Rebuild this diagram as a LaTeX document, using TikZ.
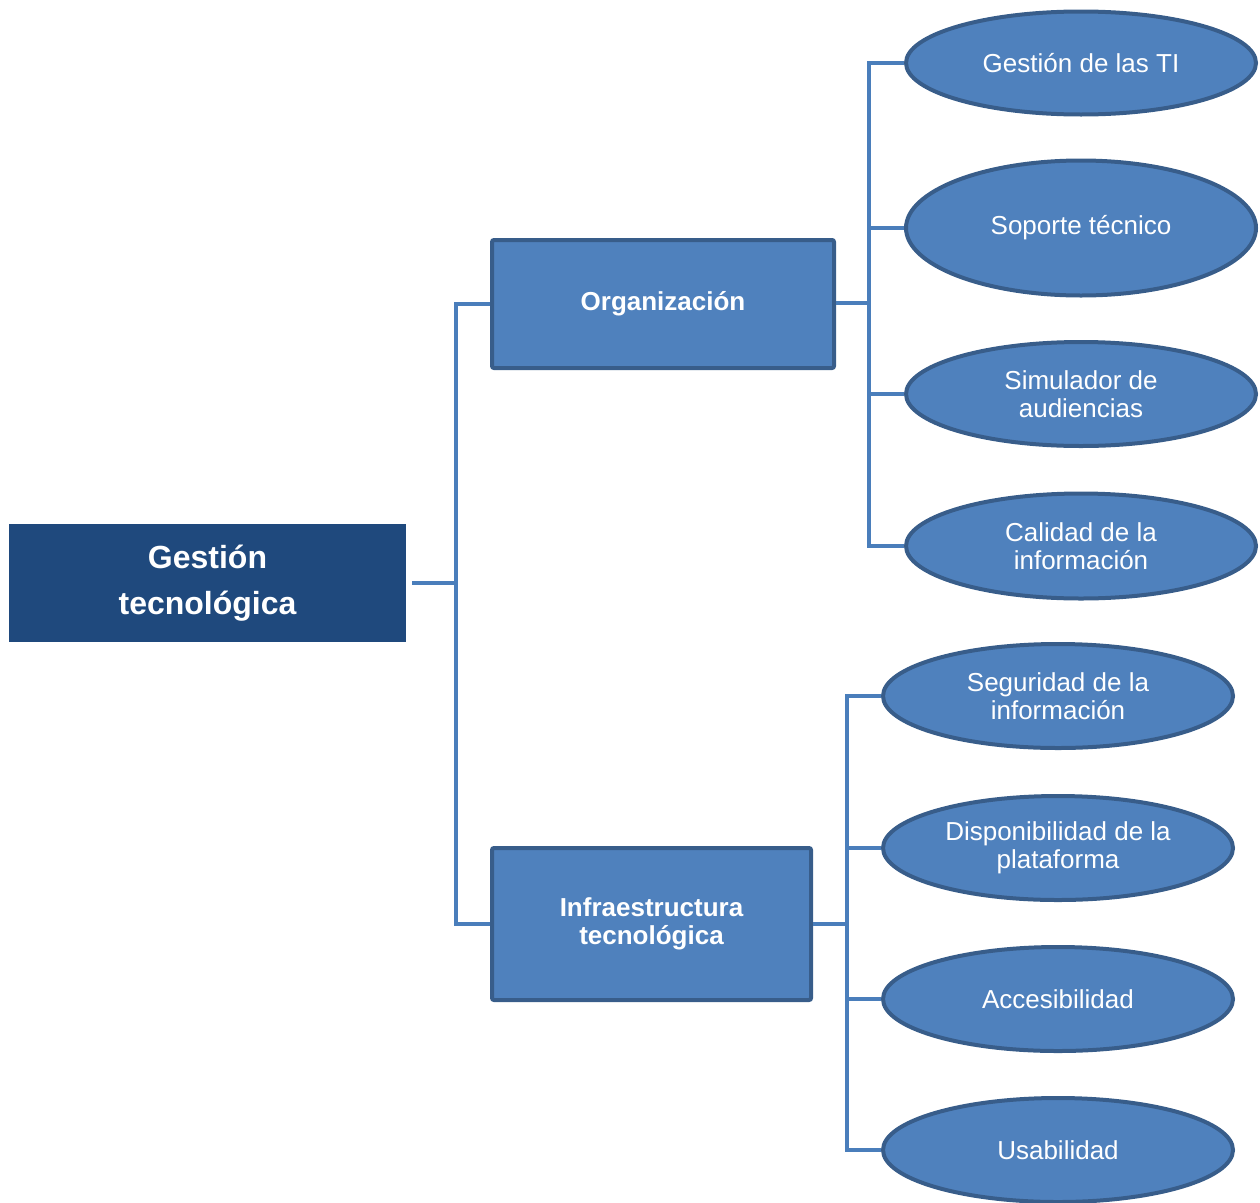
\documentclass[tikz,border=0pt]{standalone}
\usepackage{fontspec}
\setmainfont{Liberation Sans}
\usetikzlibrary{shapes.geometric}
\definecolor{boxfill}{HTML}{4F81BD}
\definecolor{boxline}{HTML}{385D8A}
\definecolor{rootfill}{HTML}{1F497D}
\definecolor{linkcol}{HTML}{4A7EBB}
\begin{document}
\begin{tikzpicture}[x=1pt,y=-1pt,
  rootbox/.style={rectangle, fill=rootfill, text=white, inner sep=0pt,
    minimum width=397pt, minimum height=118pt, align=center,
    font=\fontsize{32}{46}\selectfont\bfseries},
  midbox/.style={rectangle, rounded corners=2pt, fill=boxfill, draw=boxline,
    line width=4pt, text=white, inner sep=0pt, align=center,
    font=\fontsize{26}{28}\selectfont\bfseries},
  leaf/.style={ellipse, fill=boxfill, draw=boxline, line width=4pt,
    text=white, inner sep=0pt, minimum width=350pt, align=center,
    font=\fontsize{26}{28}\selectfont},
  link/.style={draw=linkcol, line width=4pt, line join=miter}]
\useasboundingbox (0,0) rectangle (1260,1202);

% root and the two branches
\node[rootbox] (root) at (207.5,583) {Gestión\\tecnológica};
\node[midbox, minimum width=342pt, minimum height=128pt] (org) at (663,304) {Organización};
\node[midbox, minimum width=319pt, minimum height=152pt] (inf) at (651.5,924) {Infraestructura\\tecnológica};

% leaves of the upper branch
\node[leaf, minimum height=103pt] (e1) at (1081,63) {Gestión de las TI};
\node[leaf, minimum height=135pt] (e2) at (1081,228) {Soporte técnico};
\node[leaf, minimum height=104pt] (e3) at (1081,394) {Simulador de\\audiencias};
\node[leaf, minimum height=105pt] (e4) at (1081,546) {Calidad de la\\información};

% leaves of the lower branch
\node[leaf, minimum height=104pt] (e5) at (1058,696) {Seguridad de la\\información};
\node[leaf, minimum height=104pt] (e6) at (1058,848) {Disponibilidad de la\\plataforma};
\node[leaf, minimum height=104pt] (e7) at (1058,999) {Accesibilidad};
\node[leaf, minimum height=104pt] (e8) at (1058,1150) {Usabilidad};

% junction points of the tree
\coordinate (j0) at (456,583);
\coordinate (j1) at (869,303);
\coordinate (j2) at (847,924);

% connectors
\path[link] ([xshift=6pt]root.east |- j0) -- (j0);
\path[link] (org.west) -| (j0) |- (inf.west);
\path[link] (org.east |- j1) -- (j1);
\path[link] (e1.west) -| (j1) |- (e4.west);
\path[link] (j1) |- (e2.west);
\path[link] (j1) |- (e3.west);
\path[link] (inf.east) -- (j2);
\path[link] (e5.west) -| (j2) |- (e8.west);
\path[link] (j2) |- (e6.west);
\path[link] (j2) |- (e7.west);
\end{tikzpicture}
\end{document}
